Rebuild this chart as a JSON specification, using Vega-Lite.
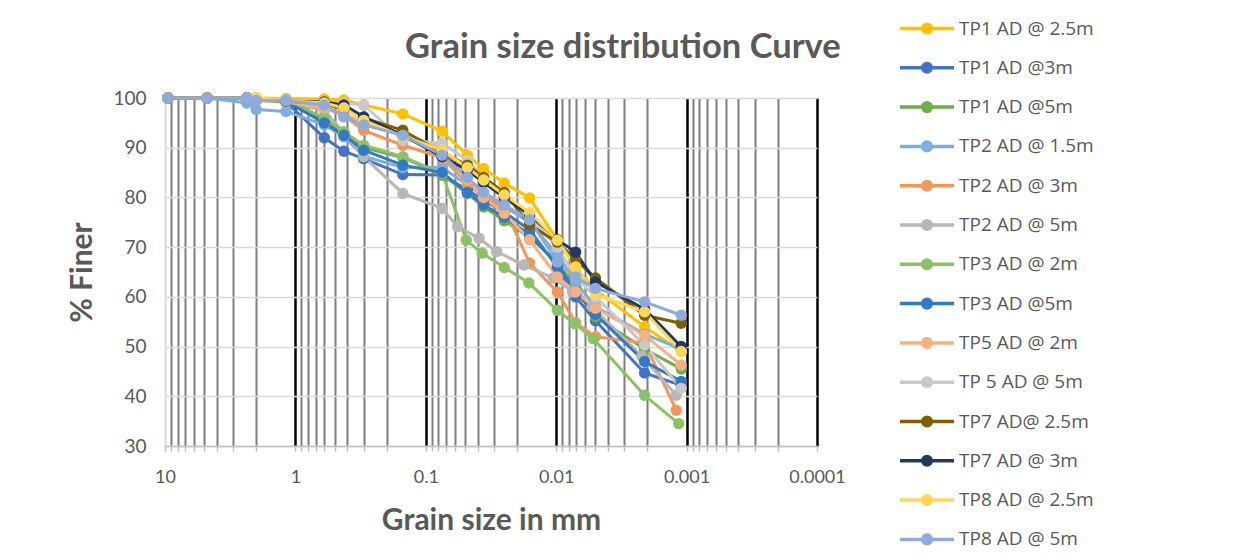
{
  "$schema": "https://vega.github.io/schema/vega-lite/v6.json",
  "width": 652,
  "height": 348,
  "autosize": {"type": "none"},
  "padding": {"left": 165, "top": 98, "right": 417, "bottom": 112},
  "background": "white",
  "config": {"view": {"stroke": null}, "font": "Lato"},
  "title": {"text": "Grain size distribution Curve", "anchor": "start", "frame": "group", "dx": 240, "offset": -52, "fontSize": 34.5, "fontWeight": "bold", "color": "#595959", "font": "Lato"},
  "data": {"values": [
    {"s":"TP1 AD @ 2.5m","d":9.5,"p":100},{"s":"TP1 AD @ 2.5m","d":4.75,"p":100},{"s":"TP1 AD @ 2.5m","d":2.36,"p":100},{"s":"TP1 AD @ 2.5m","d":2,"p":100},{"s":"TP1 AD @ 2.5m","d":1.18,"p":99.9},{"s":"TP1 AD @ 2.5m","d":0.6,"p":99.8},{"s":"TP1 AD @ 2.5m","d":0.425,"p":99.6},{"s":"TP1 AD @ 2.5m","d":0.3,"p":98.6},{"s":"TP1 AD @ 2.5m","d":0.15,"p":96.8},{"s":"TP1 AD @ 2.5m","d":0.075,"p":93.3},{"s":"TP1 AD @ 2.5m","d":0.048,"p":88.5},{"s":"TP1 AD @ 2.5m","d":0.036,"p":85.8},{"s":"TP1 AD @ 2.5m","d":0.025,"p":82.9},{"s":"TP1 AD @ 2.5m","d":0.016,"p":79.9},{"s":"TP1 AD @ 2.5m","d":0.0098,"p":71.4},{"s":"TP1 AD @ 2.5m","d":0.0071,"p":65.8},{"s":"TP1 AD @ 2.5m","d":0.005,"p":61.4},{"s":"TP1 AD @ 2.5m","d":0.0021,"p":54.0},{"s":"TP1 AD @ 2.5m","d":0.0011,"p":49.0},
    {"s":"TP1 AD @3m","d":9.5,"p":100},{"s":"TP1 AD @3m","d":4.75,"p":100},{"s":"TP1 AD @3m","d":2.36,"p":100},{"s":"TP1 AD @3m","d":2,"p":99.6},{"s":"TP1 AD @3m","d":1.18,"p":99.2},{"s":"TP1 AD @3m","d":0.6,"p":92.0},{"s":"TP1 AD @3m","d":0.425,"p":89.3},{"s":"TP1 AD @3m","d":0.3,"p":87.8},{"s":"TP1 AD @3m","d":0.15,"p":84.6},{"s":"TP1 AD @3m","d":0.075,"p":84.5},{"s":"TP1 AD @3m","d":0.048,"p":81.5},{"s":"TP1 AD @3m","d":0.036,"p":79.5},{"s":"TP1 AD @3m","d":0.025,"p":77.0},{"s":"TP1 AD @3m","d":0.016,"p":73.5},{"s":"TP1 AD @3m","d":0.0098,"p":66.0},{"s":"TP1 AD @3m","d":0.0071,"p":60.0},{"s":"TP1 AD @3m","d":0.005,"p":55.2},{"s":"TP1 AD @3m","d":0.0021,"p":44.7},{"s":"TP1 AD @3m","d":0.0011,"p":42.2},
    {"s":"TP1 AD @5m","d":9.5,"p":100},{"s":"TP1 AD @5m","d":4.75,"p":100},{"s":"TP1 AD @5m","d":2.36,"p":100},{"s":"TP1 AD @5m","d":2,"p":100},{"s":"TP1 AD @5m","d":1.18,"p":99.5},{"s":"TP1 AD @5m","d":0.6,"p":95.5},{"s":"TP1 AD @5m","d":0.425,"p":93.0},{"s":"TP1 AD @5m","d":0.3,"p":90.0},{"s":"TP1 AD @5m","d":0.15,"p":88.0},{"s":"TP1 AD @5m","d":0.075,"p":84.6},{"s":"TP1 AD @5m","d":0.048,"p":80.8},{"s":"TP1 AD @5m","d":0.036,"p":78.1},{"s":"TP1 AD @5m","d":0.025,"p":75.3},{"s":"TP1 AD @5m","d":0.016,"p":72.0},{"s":"TP1 AD @5m","d":0.0098,"p":67.0},{"s":"TP1 AD @5m","d":0.0071,"p":62.0},{"s":"TP1 AD @5m","d":0.005,"p":56.0},{"s":"TP1 AD @5m","d":0.0021,"p":49.5},{"s":"TP1 AD @5m","d":0.0011,"p":45.5},
    {"s":"TP2 AD @ 1.5m","d":9.5,"p":100},{"s":"TP2 AD @ 1.5m","d":4.75,"p":100},{"s":"TP2 AD @ 1.5m","d":2.36,"p":99.0},{"s":"TP2 AD @ 1.5m","d":2,"p":97.7},{"s":"TP2 AD @ 1.5m","d":1.18,"p":97.3},{"s":"TP2 AD @ 1.5m","d":0.6,"p":94.6},{"s":"TP2 AD @ 1.5m","d":0.425,"p":92.2},{"s":"TP2 AD @ 1.5m","d":0.3,"p":88.3},{"s":"TP2 AD @ 1.5m","d":0.15,"p":86.0},{"s":"TP2 AD @ 1.5m","d":0.075,"p":86.0},{"s":"TP2 AD @ 1.5m","d":0.048,"p":82.5},{"s":"TP2 AD @ 1.5m","d":0.036,"p":80.5},{"s":"TP2 AD @ 1.5m","d":0.025,"p":78.2},{"s":"TP2 AD @ 1.5m","d":0.016,"p":75.0},{"s":"TP2 AD @ 1.5m","d":0.0098,"p":68.5},{"s":"TP2 AD @ 1.5m","d":0.0071,"p":63.0},{"s":"TP2 AD @ 1.5m","d":0.005,"p":58.0},{"s":"TP2 AD @ 1.5m","d":0.0021,"p":52.5},{"s":"TP2 AD @ 1.5m","d":0.0011,"p":49.5},
    {"s":"TP2 AD @ 3m","d":9.5,"p":100},{"s":"TP2 AD @ 3m","d":4.75,"p":100},{"s":"TP2 AD @ 3m","d":2.36,"p":100},{"s":"TP2 AD @ 3m","d":2,"p":99.6},{"s":"TP2 AD @ 3m","d":1.18,"p":99.2},{"s":"TP2 AD @ 3m","d":0.6,"p":98.0},{"s":"TP2 AD @ 3m","d":0.425,"p":96.5},{"s":"TP2 AD @ 3m","d":0.3,"p":93.5},{"s":"TP2 AD @ 3m","d":0.15,"p":90.5},{"s":"TP2 AD @ 3m","d":0.075,"p":88.0},{"s":"TP2 AD @ 3m","d":0.048,"p":82.8},{"s":"TP2 AD @ 3m","d":0.036,"p":80.0},{"s":"TP2 AD @ 3m","d":0.025,"p":78.0},{"s":"TP2 AD @ 3m","d":0.016,"p":66.8},{"s":"TP2 AD @ 3m","d":0.0098,"p":61.0},{"s":"TP2 AD @ 3m","d":0.0071,"p":54.8},{"s":"TP2 AD @ 3m","d":0.005,"p":52.0},{"s":"TP2 AD @ 3m","d":0.0021,"p":50.7},{"s":"TP2 AD @ 3m","d":0.0012,"p":37.2},
    {"s":"TP2 AD @ 5m","d":9.5,"p":100},{"s":"TP2 AD @ 5m","d":4.75,"p":100},{"s":"TP2 AD @ 5m","d":2.36,"p":100},{"s":"TP2 AD @ 5m","d":2,"p":99.6},{"s":"TP2 AD @ 5m","d":1.18,"p":99.2},{"s":"TP2 AD @ 5m","d":0.6,"p":97.5},{"s":"TP2 AD @ 5m","d":0.425,"p":93.0},{"s":"TP2 AD @ 5m","d":0.3,"p":88.2},{"s":"TP2 AD @ 5m","d":0.15,"p":80.8},{"s":"TP2 AD @ 5m","d":0.075,"p":77.8},{"s":"TP2 AD @ 5m","d":0.057,"p":74.1},{"s":"TP2 AD @ 5m","d":0.039,"p":71.8},{"s":"TP2 AD @ 5m","d":0.0286,"p":69.1},{"s":"TP2 AD @ 5m","d":0.0177,"p":66.4},{"s":"TP2 AD @ 5m","d":0.0105,"p":63.8},{"s":"TP2 AD @ 5m","d":0.0075,"p":61.0},{"s":"TP2 AD @ 5m","d":0.0053,"p":58.0},{"s":"TP2 AD @ 5m","d":0.0022,"p":48.0},{"s":"TP2 AD @ 5m","d":0.0012,"p":40.2},
    {"s":"TP3 AD @ 2m","d":9.5,"p":100},{"s":"TP3 AD @ 2m","d":4.75,"p":100},{"s":"TP3 AD @ 2m","d":2.36,"p":100},{"s":"TP3 AD @ 2m","d":2,"p":100},{"s":"TP3 AD @ 2m","d":1.18,"p":99.6},{"s":"TP3 AD @ 2m","d":0.6,"p":96.0},{"s":"TP3 AD @ 2m","d":0.425,"p":93.2},{"s":"TP3 AD @ 2m","d":0.3,"p":90.5},{"s":"TP3 AD @ 2m","d":0.15,"p":88.2},{"s":"TP3 AD @ 2m","d":0.075,"p":84.8},{"s":"TP3 AD @ 2m","d":0.049,"p":71.4},{"s":"TP3 AD @ 2m","d":0.037,"p":68.8},{"s":"TP3 AD @ 2m","d":0.025,"p":65.9},{"s":"TP3 AD @ 2m","d":0.0162,"p":62.8},{"s":"TP3 AD @ 2m","d":0.0098,"p":57.3},{"s":"TP3 AD @ 2m","d":0.0072,"p":54.6},{"s":"TP3 AD @ 2m","d":0.0052,"p":51.6},{"s":"TP3 AD @ 2m","d":0.0021,"p":40.2},{"s":"TP3 AD @ 2m","d":0.00115,"p":34.5},
    {"s":"TP3 AD @5m","d":9.5,"p":100},{"s":"TP3 AD @5m","d":4.75,"p":100},{"s":"TP3 AD @5m","d":2.36,"p":100},{"s":"TP3 AD @5m","d":2,"p":99.7},{"s":"TP3 AD @5m","d":1.18,"p":99.3},{"s":"TP3 AD @5m","d":0.6,"p":95.0},{"s":"TP3 AD @5m","d":0.425,"p":92.5},{"s":"TP3 AD @5m","d":0.3,"p":89.5},{"s":"TP3 AD @5m","d":0.15,"p":86.5},{"s":"TP3 AD @5m","d":0.075,"p":85.0},{"s":"TP3 AD @5m","d":0.048,"p":81.0},{"s":"TP3 AD @5m","d":0.036,"p":78.5},{"s":"TP3 AD @5m","d":0.025,"p":76.0},{"s":"TP3 AD @5m","d":0.016,"p":72.5},{"s":"TP3 AD @5m","d":0.0098,"p":66.5},{"s":"TP3 AD @5m","d":0.0071,"p":61.0},{"s":"TP3 AD @5m","d":0.005,"p":56.5},{"s":"TP3 AD @5m","d":0.0021,"p":47.0},{"s":"TP3 AD @5m","d":0.0011,"p":43.0},
    {"s":"TP5 AD @ 2m","d":9.5,"p":100},{"s":"TP5 AD @ 2m","d":4.75,"p":100},{"s":"TP5 AD @ 2m","d":2.36,"p":100},{"s":"TP5 AD @ 2m","d":2,"p":99.5},{"s":"TP5 AD @ 2m","d":1.18,"p":99.2},{"s":"TP5 AD @ 2m","d":0.6,"p":98.0},{"s":"TP5 AD @ 2m","d":0.425,"p":96.8},{"s":"TP5 AD @ 2m","d":0.3,"p":95.0},{"s":"TP5 AD @ 2m","d":0.15,"p":92.8},{"s":"TP5 AD @ 2m","d":0.075,"p":90.0},{"s":"TP5 AD @ 2m","d":0.048,"p":83.5},{"s":"TP5 AD @ 2m","d":0.036,"p":80.0},{"s":"TP5 AD @ 2m","d":0.025,"p":76.8},{"s":"TP5 AD @ 2m","d":0.016,"p":71.5},{"s":"TP5 AD @ 2m","d":0.0098,"p":64.0},{"s":"TP5 AD @ 2m","d":0.0071,"p":61.0},{"s":"TP5 AD @ 2m","d":0.005,"p":57.7},{"s":"TP5 AD @ 2m","d":0.0021,"p":52.3},{"s":"TP5 AD @ 2m","d":0.0011,"p":46.3},
    {"s":"TP 5 AD @ 5m","d":9.5,"p":100},{"s":"TP 5 AD @ 5m","d":4.75,"p":100},{"s":"TP 5 AD @ 5m","d":2.36,"p":100},{"s":"TP 5 AD @ 5m","d":2,"p":100},{"s":"TP 5 AD @ 5m","d":1.18,"p":99.6},{"s":"TP 5 AD @ 5m","d":0.6,"p":99.2},{"s":"TP 5 AD @ 5m","d":0.425,"p":99.0},{"s":"TP 5 AD @ 5m","d":0.3,"p":98.6},{"s":"TP 5 AD @ 5m","d":0.15,"p":91.5},{"s":"TP 5 AD @ 5m","d":0.075,"p":90.9},{"s":"TP 5 AD @ 5m","d":0.048,"p":87.5},{"s":"TP 5 AD @ 5m","d":0.036,"p":84.0},{"s":"TP 5 AD @ 5m","d":0.025,"p":80.5},{"s":"TP 5 AD @ 5m","d":0.016,"p":76.0},{"s":"TP 5 AD @ 5m","d":0.0098,"p":70.0},{"s":"TP 5 AD @ 5m","d":0.0071,"p":64.0},{"s":"TP 5 AD @ 5m","d":0.005,"p":60.0},{"s":"TP 5 AD @ 5m","d":0.0021,"p":50.3},{"s":"TP 5 AD @ 5m","d":0.0011,"p":41.6},
    {"s":"TP7 AD@ 2.5m","d":9.5,"p":100},{"s":"TP7 AD@ 2.5m","d":4.75,"p":100},{"s":"TP7 AD@ 2.5m","d":2.36,"p":100},{"s":"TP7 AD@ 2.5m","d":2,"p":99.6},{"s":"TP7 AD@ 2.5m","d":1.18,"p":99.4},{"s":"TP7 AD@ 2.5m","d":0.6,"p":98.8},{"s":"TP7 AD@ 2.5m","d":0.425,"p":97.8},{"s":"TP7 AD@ 2.5m","d":0.3,"p":96.0},{"s":"TP7 AD@ 2.5m","d":0.15,"p":93.5},{"s":"TP7 AD@ 2.5m","d":0.075,"p":89.0},{"s":"TP7 AD@ 2.5m","d":0.048,"p":86.5},{"s":"TP7 AD@ 2.5m","d":0.036,"p":84.0},{"s":"TP7 AD@ 2.5m","d":0.025,"p":81.0},{"s":"TP7 AD@ 2.5m","d":0.016,"p":74.5},{"s":"TP7 AD@ 2.5m","d":0.0098,"p":71.0},{"s":"TP7 AD@ 2.5m","d":0.0071,"p":67.5},{"s":"TP7 AD@ 2.5m","d":0.005,"p":63.8},{"s":"TP7 AD@ 2.5m","d":0.0021,"p":56.3},{"s":"TP7 AD@ 2.5m","d":0.0011,"p":54.7},
    {"s":"TP7 AD @ 3m","d":9.5,"p":100},{"s":"TP7 AD @ 3m","d":4.75,"p":100},{"s":"TP7 AD @ 3m","d":2.36,"p":100},{"s":"TP7 AD @ 3m","d":2,"p":99.6},{"s":"TP7 AD @ 3m","d":1.18,"p":99.4},{"s":"TP7 AD @ 3m","d":0.6,"p":99.2},{"s":"TP7 AD @ 3m","d":0.425,"p":98.6},{"s":"TP7 AD @ 3m","d":0.3,"p":96.2},{"s":"TP7 AD @ 3m","d":0.15,"p":92.5},{"s":"TP7 AD @ 3m","d":0.075,"p":88.2},{"s":"TP7 AD @ 3m","d":0.048,"p":85.5},{"s":"TP7 AD @ 3m","d":0.036,"p":83.0},{"s":"TP7 AD @ 3m","d":0.025,"p":80.0},{"s":"TP7 AD @ 3m","d":0.016,"p":76.5},{"s":"TP7 AD @ 3m","d":0.0098,"p":71.5},{"s":"TP7 AD @ 3m","d":0.0071,"p":69.0},{"s":"TP7 AD @ 3m","d":0.005,"p":63.0},{"s":"TP7 AD @ 3m","d":0.0021,"p":57.5},{"s":"TP7 AD @ 3m","d":0.0011,"p":50.0},
    {"s":"TP8 AD @ 2.5m","d":9.5,"p":100},{"s":"TP8 AD @ 2.5m","d":4.75,"p":100},{"s":"TP8 AD @ 2.5m","d":2.36,"p":100},{"s":"TP8 AD @ 2.5m","d":2,"p":100},{"s":"TP8 AD @ 2.5m","d":1.18,"p":99.5},{"s":"TP8 AD @ 2.5m","d":0.6,"p":99.0},{"s":"TP8 AD @ 2.5m","d":0.425,"p":98.0},{"s":"TP8 AD @ 2.5m","d":0.3,"p":95.5},{"s":"TP8 AD @ 2.5m","d":0.15,"p":92.3},{"s":"TP8 AD @ 2.5m","d":0.075,"p":89.5},{"s":"TP8 AD @ 2.5m","d":0.048,"p":86.0},{"s":"TP8 AD @ 2.5m","d":0.036,"p":83.5},{"s":"TP8 AD @ 2.5m","d":0.025,"p":80.5},{"s":"TP8 AD @ 2.5m","d":0.016,"p":77.0},{"s":"TP8 AD @ 2.5m","d":0.0098,"p":71.4},{"s":"TP8 AD @ 2.5m","d":0.0071,"p":66.0},{"s":"TP8 AD @ 2.5m","d":0.005,"p":60.5},{"s":"TP8 AD @ 2.5m","d":0.0021,"p":57.0},{"s":"TP8 AD @ 2.5m","d":0.0011,"p":49.0},
    {"s":"TP8 AD @ 5m","d":9.5,"p":100},{"s":"TP8 AD @ 5m","d":4.75,"p":100},{"s":"TP8 AD @ 5m","d":2.36,"p":100},{"s":"TP8 AD @ 5m","d":2,"p":99.5},{"s":"TP8 AD @ 5m","d":1.18,"p":99.5},{"s":"TP8 AD @ 5m","d":0.6,"p":98.6},{"s":"TP8 AD @ 5m","d":0.425,"p":96.2},{"s":"TP8 AD @ 5m","d":0.3,"p":94.6},{"s":"TP8 AD @ 5m","d":0.15,"p":92.5},{"s":"TP8 AD @ 5m","d":0.075,"p":88.5},{"s":"TP8 AD @ 5m","d":0.048,"p":84.0},{"s":"TP8 AD @ 5m","d":0.036,"p":81.0},{"s":"TP8 AD @ 5m","d":0.025,"p":78.5},{"s":"TP8 AD @ 5m","d":0.016,"p":75.5},{"s":"TP8 AD @ 5m","d":0.0098,"p":67.0},{"s":"TP8 AD @ 5m","d":0.0071,"p":64.0},{"s":"TP8 AD @ 5m","d":0.005,"p":61.7},{"s":"TP8 AD @ 5m","d":0.0021,"p":59.0},{"s":"TP8 AD @ 5m","d":0.0011,"p":56.3}
  ]},
  "encoding": {
    "x": {"field": "d", "type": "quantitative",
      "scale": {"type": "log", "domain": [0.0001, 10], "reverse": true, "nice": false},
      "axis": {
        "title": "Grain size in mm",
        "values": [10,9,8,7,6,5,4,3,2,1,0.9,0.8,0.7,0.6,0.5,0.4,0.3,0.2,0.1,0.09,0.08,0.07,0.06,0.05,0.04,0.03,0.02,0.01,0.009,0.008,0.007,0.006,0.005,0.004,0.003,0.002,0.001,0.0009,0.0008,0.0007,0.0006,0.0005,0.0004,0.0003,0.0002,0.0001],
        "labelExpr": "indexof([10,1,0.1,0.01,0.001,0.0001], datum.value) >= 0 ? datum.value + '' : ''",
        "labelOverlap": false, "labelFlush": false, "labelAlign": "center",
        "labelFont": "Lato", "labelFontSize": 18, "labelColor": "#595959", "labelPadding": 17, "labelBaseline": "top",
        "grid": true,
        "gridColor": {"condition": [{"test": "datum.value == 10", "value": "#D9D9D9"}, {"test": "indexof([1,0.1,0.01,0.001,0.0001], datum.value) >= 0", "value": "#000000"}], "value": "#7F7F7F"},
        "gridWidth": {"condition": {"test": "indexof([1,0.1,0.01,0.001,0.0001], datum.value) >= 0", "value": 2.5}, "value": 2},
        "gridOpacity": 1,
        "ticks": true, "tickSize": 5, "tickColor": "#BFBFBF", "tickWidth": 1.5,
        "domain": true, "domainColor": "#BFBFBF", "domainWidth": 1.5,
        "titleFont": "Lato", "titleFontSize": 30, "titleFontWeight": "bold", "titleColor": "#595959",
        "titleX": 326, "titleY": 74, "titleBaseline": "middle", "titleAlign": "center"
      }
    },
    "y": {"field": "p", "type": "quantitative",
      "scale": {"domain": [30, 100], "nice": false, "zero": false},
      "axis": {
        "title": "% Finer",
        "values": [30,40,50,60,70,80,90,100],
        "labelFont": "Lato", "labelFontSize": 19, "labelColor": "#595959", "labelPadding": 19,
        "ticks": false, "tickSize": 0, "domain": false,
        "grid": true, "gridColor": "#D9D9D9", "gridWidth": 1.3,
        "titleFont": "Lato", "titleFontSize": 30, "titleFontWeight": "bold", "titleColor": "#595959",
        "titleX": -83, "titleY": 174, "titleAngle": -90, "titleBaseline": "middle", "titleAlign": "center"
      }
    },
    "color": {"field": "s", "type": "nominal",
      "scale": {
        "domain": ["TP1 AD @ 2.5m","TP1 AD @3m","TP1 AD @5m","TP2 AD @ 1.5m","TP2 AD @ 3m","TP2 AD @ 5m","TP3 AD @ 2m","TP3 AD @5m","TP5 AD @ 2m","TP 5 AD @ 5m","TP7 AD@ 2.5m","TP7 AD @ 3m","TP8 AD @ 2.5m","TP8 AD @ 5m"],
        "range": ["#FFC000","#4472C4","#70AD47","#7CAFDD","#F1975A","#B7B7B7","#8CC168","#3379C3","#F4B183","#C9C9C9","#7F6000","#203864","#FFD757","#8FAADC"]
      },
      "legend": {
        "title": null, "orient": "none", "legendX": 733, "legendY": -85, "padding": 0,
        "symbolType": "M -1 0 L 3 0 M 0.68 0 A 0.32 0.32 0 1 1 1.32 0 A 0.32 0.32 0 1 1 0.68 0 Z",
        "symbolSize": 729, "symbolStrokeWidth": 3.5, "symbolOpacity": 1,
        "labelFont": "Open Sans", "labelFontSize": 19, "labelColor": "#595959", "labelOffset": 30,
        "rowPadding": 12.3,
        "encode": {"symbols": {"update": {"fill": {"scale": "color", "field": "value"}, "stroke": {"scale": "color", "field": "value"}, "opacity": {"value": 1}}}}
      }
    }
  },
  "layer": [
    {"mark": {"type": "line", "strokeWidth": 3, "interpolate": "linear"}},
    {"mark": {"type": "point", "filled": true, "size": 130, "opacity": 1, "shape": "circle"}}
  ]
}
